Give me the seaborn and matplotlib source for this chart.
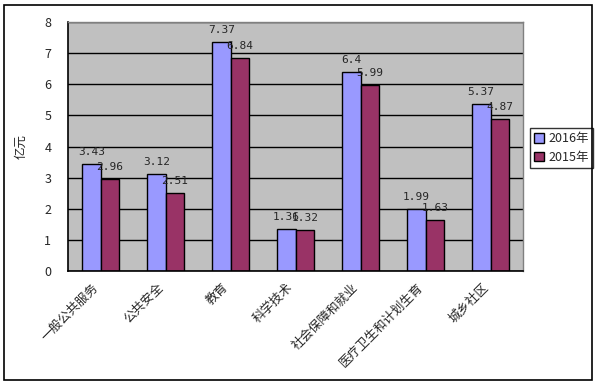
import matplotlib
matplotlib.use("Agg")
import matplotlib.pyplot as plt
import matplotlib.transforms as mtransforms
import seaborn as sns
import pandas as pd
from matplotlib.patches import Rectangle

categories = ["一般公共服务", "公共安全", "教育", "科学技术", "社会保障和就业", "医疗卫生和计划生育", "城乡社区"]
v2016 = [3.43, 3.12, 7.37, 1.36, 6.4, 1.99, 5.37]
v2015 = [2.96, 2.51, 6.84, 1.32, 5.99, 1.63, 4.87]
series = ["2016年", "2015年"]
label2016 = ["3.43", "3.12", "7.37", "1.36", "6.4", "1.99", "5.37"]
label2015 = ["2.96", "2.51", "6.84", "1.32", "5.99", "1.63", "4.87"]

sns.set_style("white")
plt.rcParams['font.family'] = ['Noto Sans CJK SC', 'DejaVu Sans']

df = pd.DataFrame({
    "cat": categories * 2,
    "val": v2016 + v2015,
    "ser": [series[0]] * len(categories) + [series[1]] * len(categories),
})

fig = plt.figure(figsize=(5.97, 3.85), dpi=100)
ax = fig.add_axes([68/597, 1 - 271/385, (523-68)/597, (271-22)/385])
palette = {series[0]: "#9999FF", series[1]: "#993366"}
sns.barplot(data=df, x="cat", y="val", hue="ser", palette=palette, ax=ax,
            width=0.57, edgecolor="black", linewidth=1.0, saturation=1, legend=True)

ax.set_facecolor("#C0C0C0")
ax.set_ylim(0, 8)
ax.set_xlim(-0.5, len(categories) - 0.5)
ax.set_yticks(range(0, 9))
ax.yaxis.grid(True, color="black", linewidth=1.0)
ax.set_axisbelow(True)
ax.tick_params(axis="y", direction="out", length=7, width=1, labelsize=9, pad=5)
ax.set_xticks(range(len(categories)))
ax.set_xticklabels(categories, rotation=45, ha="right", rotation_mode="anchor", fontsize=9)
ax.tick_params(axis="x", length=0, pad=7)
offset = mtransforms.ScaledTranslation(-9/100, 0, fig.dpi_scale_trans)
for lbl in ax.get_xticklabels():
    lbl.set_transform(lbl.get_transform() + offset)
# category boundary ticks pointing inward
ax.set_xticks([i + 0.5 for i in range(len(categories) - 1)], minor=True)
ax.tick_params(axis="x", which="minor", direction="in", length=4, width=1, color="black")
ax.set_xlabel("")
ax.set_ylabel("亿元", fontsize=9)
ax.yaxis.set_label_coords(-0.088, 0.5)
for s in ["left", "bottom"]:
    ax.spines[s].set_color("black")
    ax.spines[s].set_linewidth(1.2)
for s in ["top", "right"]:
    ax.spines[s].set_color("#808080")
    ax.spines[s].set_linewidth(1.0)

for cont, labs in zip(ax.containers, [label2016, label2015]):
    ax.bar_label(cont, labels=labs, padding=5, fontsize=8, family="DejaVu Sans Mono")

leg = ax.legend(loc="upper left", bbox_to_anchor=(530/597, 1 - 128/385), bbox_transform=fig.transFigure,
                frameon=True, fancybox=False, edgecolor="black", fontsize=9,
                handlelength=0.8, handleheight=0.8, handletextpad=0.3, borderpad=0.35,
                labelspacing=0.45, borderaxespad=0)
leg.get_frame().set_linewidth(1.0)
for h in leg.legend_handles:
    h.set_edgecolor("black")

fig.patches.append(Rectangle((4/597, 5/385), 588/597, 375/385, transform=fig.transFigure,
                             fill=False, edgecolor="black", linewidth=1.2))

fig.savefig("out.png", dpi=100, facecolor="white")
